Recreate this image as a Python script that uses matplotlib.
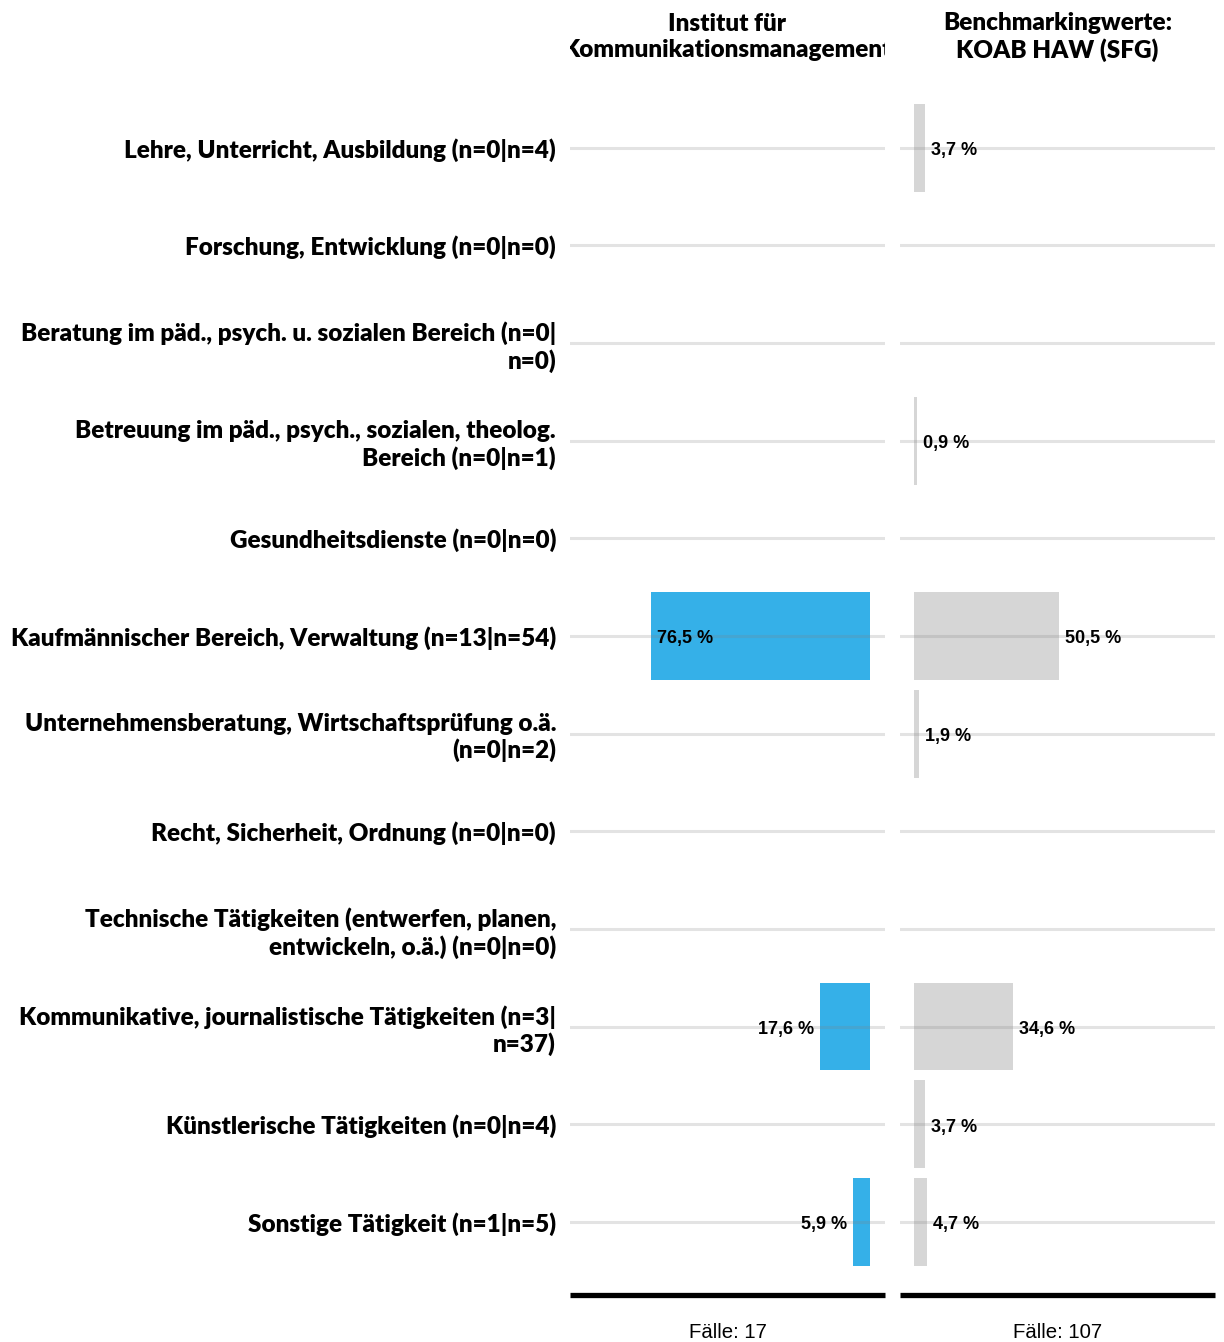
import matplotlib
matplotlib.use("Agg")
import matplotlib.pyplot as plt
from matplotlib.transforms import Bbox, TransformedBbox

# Kategorien (Tätigkeitsbereiche)
categories = [
    "Lehre, Unterricht, Ausbildung (n=0|n=4)",
    "Forschung, Entwicklung (n=0|n=0)",
    "Beratung im päd., psych. u. sozialen Bereich (n=0|\nn=0)",
    "Betreuung im päd., psych., sozialen, theolog.\nBereich (n=0|n=1)",
    "Gesundheitsdienste (n=0|n=0)",
    "Kaufmännischer Bereich, Verwaltung (n=13|n=54)",
    "Unternehmensberatung, Wirtschaftsprüfung o.ä.\n(n=0|n=2)",
    "Recht, Sicherheit, Ordnung (n=0|n=0)",
    "Technische Tätigkeiten (entwerfen, planen,\nentwickeln, o.ä.) (n=0|n=0)",
    "Kommunikative, journalistische Tätigkeiten (n=3|\nn=37)",
    "Künstlerische Tätigkeiten (n=0|n=4)",
    "Sonstige Tätigkeit (n=1|n=5)",
]
# Prozentwerte
institut = [0, 0, 0, 0, 0, 76.5, 0, 0, 0, 17.6, 0, 5.9]
benchmark = [3.7, 0, 0, 0.9, 0, 50.5, 1.9, 0, 0, 34.6, 3.7, 4.7]
titles = ["Institut für\nKommunikationsmanagement", "Benchmarkingwerte:\nKOAB HAW (SFG)"]
faelle = ["Fälle: 17", "Fälle: 107"]

W, H = 1224, 1342
fig = plt.figure(figsize=(W / 100, H / 100), dpi=100)

def fx(px):
    return px / W

def fy(py):
    return 1 - py / H

ax_top, ax_bot = 99, 1295
ax1 = fig.add_axes([fx(570), fy(ax_bot), fx(885 - 570), (ax_bot - ax_top) / H])
ax2 = fig.add_axes([fx(900), fy(ax_bot), fx(1215 - 900), (ax_bot - ax_top) / H])

ypos = list(range(len(categories)))
blue = "#35B0E8"
grey = "#D6D6D6"
lab_font = dict(family="Liberation Sans", weight="bold", size=13)
cat_font = dict(fontfamily="Lato", fontweight="heavy", fontsize=17.45)

# links: Balken wachsen nach links
ax1.barh(ypos, institut, height=0.9, color=blue, zorder=2)
ax1.set_xlim(104.9, -5.24)
for y, v in zip(ypos, institut):
    if v <= 0:
        continue
    s = f"{v:.1f} %".replace(".", ",")
    if v > 30:
        ax1.annotate(s, (v, y), xytext=(6, -3), textcoords="offset pixels",
                     ha="left", va="center", zorder=4, **lab_font)
    else:
        ax1.annotate(s, (v, y), xytext=(-6, -3), textcoords="offset pixels",
                     ha="right", va="center", zorder=4, **lab_font)

# rechts: Benchmark
ax2.barh(ypos, benchmark, height=0.9, color=grey, zorder=2)
ax2.set_xlim(-4.9, 105.2)
for y, v in zip(ypos, benchmark):
    if v <= 0:
        continue
    s = f"{v:.1f} %".replace(".", ",")
    ax2.annotate(s, (v, y), xytext=(6, -3), textcoords="offset pixels",
                 ha="left", va="center", zorder=4, **lab_font)

for ax in (ax1, ax2):
    ax.set_ylim(11.75, -0.5)
    for y in ypos:
        ax.axhline(y, color="#808080", lw=2.2, alpha=0.22, zorder=3)
    for sp in ("top", "left", "right"):
        ax.spines[sp].set_visible(False)
    ax.spines["bottom"].set_linewidth(3.8)
    ax.spines["bottom"].set_color("black")
    ax.spines["bottom"].set_capstyle("butt")
    ax.tick_params(left=False, bottom=False, labelbottom=False)
    ax.set_xticks([])
    ax.set_yticks([])

ax1.set_yticks(ypos)
ax1.set_yticklabels(categories, linespacing=1.2, **cat_font)
ax1.tick_params(axis="y", left=False, pad=6.5)
ax2.set_yticks(ypos)
ax2.tick_params(axis="y", left=False, labelleft=False)

# Titel (abgeschnitten an Panelgrenzen)
for (x0, x1), t in zip([(570, 885), (900, 1215)], titles):
    txt = fig.text(fx((x0 + x1) / 2), fy(37), t, ha="center", va="center",
                   linespacing=1.2, **cat_font)
    clip = TransformedBbox(Bbox([[fx(x0), 0], [fx(x1), 1]]), fig.transFigure)
    txt.set_clip_box(clip)
    txt.set_clip_on(True)

for (x0, x1), t in zip([(570, 885), (900, 1215)], faelle):
    fig.text(fx((x0 + x1) / 2), fy(1333), t, ha="center", va="center",
             fontfamily="Liberation Sans", fontsize=14.7)

fig.savefig("out.png", dpi=100)
